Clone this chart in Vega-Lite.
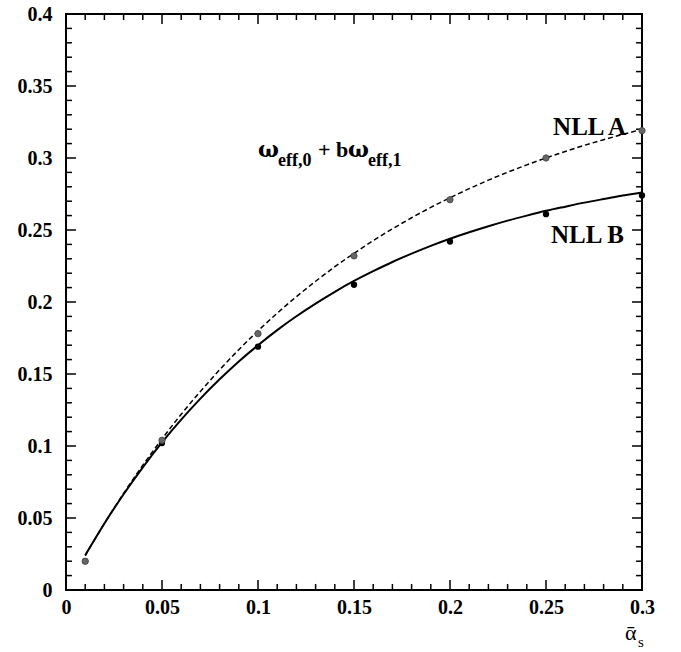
{
  "$schema": "https://vega.github.io/schema/vega-lite/v6.json",
  "width": 576,
  "height": 576,
  "autosize": "none",
  "padding": {"left": 66, "top": 14, "right": 39, "bottom": 62},
  "background": "white",
  "config": {
    "view": {"stroke": "black", "strokeWidth": 2},
    "axis": {
      "grid": false,
      "domain": false,
      "tickColor": "black",
      "tickWidth": 1.5,
      "labelFont": "Liberation Serif",
      "labelFontWeight": "bold",
      "labelFontSize": 20,
      "labelColor": "black",
      "labelFlush": false,
      "labelOverlap": false
    }
  },
  "datasets": {
    "curves": [
      {"x": 0.01, "y": 0.0239, "series": "NLL A"},
      {"x": 0.02, "y": 0.0462, "series": "NLL A"},
      {"x": 0.03, "y": 0.0671, "series": "NLL A"},
      {"x": 0.04, "y": 0.0866, "series": "NLL A"},
      {"x": 0.05, "y": 0.1049, "series": "NLL A"},
      {"x": 0.06, "y": 0.1220, "series": "NLL A"},
      {"x": 0.07, "y": 0.1379, "series": "NLL A"},
      {"x": 0.08, "y": 0.1529, "series": "NLL A"},
      {"x": 0.09, "y": 0.1669, "series": "NLL A"},
      {"x": 0.10, "y": 0.1800, "series": "NLL A"},
      {"x": 0.11, "y": 0.1922, "series": "NLL A"},
      {"x": 0.12, "y": 0.2037, "series": "NLL A"},
      {"x": 0.13, "y": 0.2144, "series": "NLL A"},
      {"x": 0.14, "y": 0.2245, "series": "NLL A"},
      {"x": 0.15, "y": 0.2338, "series": "NLL A"},
      {"x": 0.16, "y": 0.2426, "series": "NLL A"},
      {"x": 0.17, "y": 0.2508, "series": "NLL A"},
      {"x": 0.18, "y": 0.2585, "series": "NLL A"},
      {"x": 0.19, "y": 0.2657, "series": "NLL A"},
      {"x": 0.20, "y": 0.2724, "series": "NLL A"},
      {"x": 0.21, "y": 0.2787, "series": "NLL A"},
      {"x": 0.22, "y": 0.2846, "series": "NLL A"},
      {"x": 0.23, "y": 0.2901, "series": "NLL A"},
      {"x": 0.24, "y": 0.2952, "series": "NLL A"},
      {"x": 0.25, "y": 0.3000, "series": "NLL A"},
      {"x": 0.26, "y": 0.3045, "series": "NLL A"},
      {"x": 0.27, "y": 0.3088, "series": "NLL A"},
      {"x": 0.28, "y": 0.3127, "series": "NLL A"},
      {"x": 0.29, "y": 0.3164, "series": "NLL A"},
      {"x": 0.30, "y": 0.3199, "series": "NLL A"},
      {"x": 0.01, "y": 0.0241, "series": "NLL B"},
      {"x": 0.02, "y": 0.0462, "series": "NLL B"},
      {"x": 0.03, "y": 0.0665, "series": "NLL B"},
      {"x": 0.04, "y": 0.0852, "series": "NLL B"},
      {"x": 0.05, "y": 0.1025, "series": "NLL B"},
      {"x": 0.06, "y": 0.1183, "series": "NLL B"},
      {"x": 0.07, "y": 0.1329, "series": "NLL B"},
      {"x": 0.08, "y": 0.1463, "series": "NLL B"},
      {"x": 0.09, "y": 0.1587, "series": "NLL B"},
      {"x": 0.10, "y": 0.1700, "series": "NLL B"},
      {"x": 0.11, "y": 0.1805, "series": "NLL B"},
      {"x": 0.12, "y": 0.1901, "series": "NLL B"},
      {"x": 0.13, "y": 0.1989, "series": "NLL B"},
      {"x": 0.14, "y": 0.2071, "series": "NLL B"},
      {"x": 0.15, "y": 0.2146, "series": "NLL B"},
      {"x": 0.16, "y": 0.2214, "series": "NLL B"},
      {"x": 0.17, "y": 0.2278, "series": "NLL B"},
      {"x": 0.18, "y": 0.2336, "series": "NLL B"},
      {"x": 0.19, "y": 0.2390, "series": "NLL B"},
      {"x": 0.20, "y": 0.2439, "series": "NLL B"},
      {"x": 0.21, "y": 0.2484, "series": "NLL B"},
      {"x": 0.22, "y": 0.2526, "series": "NLL B"},
      {"x": 0.23, "y": 0.2565, "series": "NLL B"},
      {"x": 0.24, "y": 0.2600, "series": "NLL B"},
      {"x": 0.25, "y": 0.2633, "series": "NLL B"},
      {"x": 0.26, "y": 0.2662, "series": "NLL B"},
      {"x": 0.27, "y": 0.2690, "series": "NLL B"},
      {"x": 0.28, "y": 0.2715, "series": "NLL B"},
      {"x": 0.29, "y": 0.2739, "series": "NLL B"},
      {"x": 0.30, "y": 0.2760, "series": "NLL B"}
    ],
    "points": [
      {"x": 0.01, "y": 0.020, "series": "NLL A"},
      {"x": 0.05, "y": 0.104, "series": "NLL A"},
      {"x": 0.10, "y": 0.178, "series": "NLL A"},
      {"x": 0.15, "y": 0.232, "series": "NLL A"},
      {"x": 0.20, "y": 0.271, "series": "NLL A"},
      {"x": 0.25, "y": 0.300, "series": "NLL A"},
      {"x": 0.30, "y": 0.319, "series": "NLL A"},
      {"x": 0.01, "y": 0.020, "series": "NLL B"},
      {"x": 0.05, "y": 0.102, "series": "NLL B"},
      {"x": 0.10, "y": 0.169, "series": "NLL B"},
      {"x": 0.15, "y": 0.212, "series": "NLL B"},
      {"x": 0.20, "y": 0.242, "series": "NLL B"},
      {"x": 0.25, "y": 0.261, "series": "NLL B"},
      {"x": 0.30, "y": 0.274, "series": "NLL B"}
    ],
    "xmajor": [{"v": 0.05}, {"v": 0.1}, {"v": 0.15}, {"v": 0.2}, {"v": 0.25}],
    "xminor": [{"v": 0.01}, {"v": 0.02}, {"v": 0.03}, {"v": 0.04}, {"v": 0.06}, {"v": 0.07}, {"v": 0.08}, {"v": 0.09}, {"v": 0.11}, {"v": 0.12}, {"v": 0.13}, {"v": 0.14}, {"v": 0.16}, {"v": 0.17}, {"v": 0.18}, {"v": 0.19}, {"v": 0.21}, {"v": 0.22}, {"v": 0.23}, {"v": 0.24}, {"v": 0.26}, {"v": 0.27}, {"v": 0.28}, {"v": 0.29}],
    "ymajor": [{"v": 0.05}, {"v": 0.1}, {"v": 0.15}, {"v": 0.2}, {"v": 0.25}, {"v": 0.3}, {"v": 0.35}],
    "yminor": [{"v": 0.01}, {"v": 0.02}, {"v": 0.03}, {"v": 0.04}, {"v": 0.06}, {"v": 0.07}, {"v": 0.08}, {"v": 0.09}, {"v": 0.11}, {"v": 0.12}, {"v": 0.13}, {"v": 0.14}, {"v": 0.16}, {"v": 0.17}, {"v": 0.18}, {"v": 0.19}, {"v": 0.21}, {"v": 0.22}, {"v": 0.23}, {"v": 0.24}, {"v": 0.26}, {"v": 0.27}, {"v": 0.28}, {"v": 0.29}, {"v": 0.31}, {"v": 0.32}, {"v": 0.33}, {"v": 0.34}, {"v": 0.36}, {"v": 0.37}, {"v": 0.38}, {"v": 0.39}],
    "labels": [
      {"x": 0.2917, "y": 0.316, "text": "NLL A"},
      {"x": 0.2906, "y": 0.241, "text": "NLL B"}
    ],
    "formula_omega": [
      {"x": 0.1, "y": 0.3007, "text": "ω"},
      {"x": 0.1469, "y": 0.3007, "text": "ω"}
    ],
    "formula_main": [
      {"x": 0.1313, "y": 0.3007, "text": "+"},
      {"x": 0.1406, "y": 0.3007, "text": "b"}
    ],
    "formula_sub": [
      {"x": 0.1104, "y": 0.2944, "text": "eff,0"},
      {"x": 0.1573, "y": 0.2944, "text": "eff,1"}
    ],
    "xtitle_main": [
      {"x": 0.2911, "y": -0.0347, "text": "ᾱ"}
    ],
    "xtitle_sub": [
      {"x": 0.2979, "y": -0.0396, "text": "s"}
    ]
  },
  "resolve": {"axis": {"x": "independent", "y": "independent"}},
  "layer": [
    {
      "data": {"name": "curves"},
      "transform": [{"filter": "datum.series === 'NLL B'"}],
      "mark": {"type": "line", "color": "black", "strokeWidth": 2, "interpolate": "monotone"},
      "encoding": {
        "x": {"field": "x", "type": "quantitative", "scale": {"domain": [0, 0.3], "nice": false, "zero": false},
          "axis": {"orient": "bottom", "title": null, "ticks": false, "labelPadding": 7, "values": [0, 0.05, 0.1, 0.15, 0.2, 0.25, 0.3], "format": ".2~f"}},
        "y": {"field": "y", "type": "quantitative", "scale": {"domain": [0, 0.4], "nice": false, "zero": false},
          "axis": {"orient": "left", "title": null, "ticks": false, "labelPadding": 14, "values": [0, 0.05, 0.1, 0.15, 0.2, 0.25, 0.3, 0.35, 0.4], "format": ".2~f"}}
      }
    },
    {
      "data": {"name": "xmajor"},
      "mark": {"type": "rule", "color": "black", "strokeWidth": 1.5},
      "encoding": {
        "x": {"field": "v", "type": "quantitative", "axis": null},
        "y": {"datum": 0, "type": "quantitative", "axis": null},
        "y2": {"datum": 0.0069}
      }
    },
    {
      "data": {"name": "xmajor"},
      "mark": {"type": "rule", "color": "black", "strokeWidth": 1.5},
      "encoding": {
        "x": {"field": "v", "type": "quantitative", "axis": null},
        "y": {"datum": 0.4, "type": "quantitative", "axis": null},
        "y2": {"datum": 0.3931}
      }
    },
    {
      "data": {"name": "xminor"},
      "mark": {"type": "rule", "color": "black", "strokeWidth": 1.5},
      "encoding": {
        "x": {"field": "v", "type": "quantitative", "axis": null},
        "y": {"datum": 0, "type": "quantitative", "axis": null},
        "y2": {"datum": 0.0042}
      }
    },
    {
      "data": {"name": "xminor"},
      "mark": {"type": "rule", "color": "black", "strokeWidth": 1.5},
      "encoding": {
        "x": {"field": "v", "type": "quantitative", "axis": null},
        "y": {"datum": 0.4, "type": "quantitative", "axis": null},
        "y2": {"datum": 0.3958}
      }
    },
    {
      "data": {"name": "ymajor"},
      "mark": {"type": "rule", "color": "black", "strokeWidth": 1.5},
      "encoding": {
        "y": {"field": "v", "type": "quantitative", "axis": null},
        "x": {"datum": 0, "type": "quantitative", "axis": null},
        "x2": {"datum": 0.0052}
      }
    },
    {
      "data": {"name": "ymajor"},
      "mark": {"type": "rule", "color": "black", "strokeWidth": 1.5},
      "encoding": {
        "y": {"field": "v", "type": "quantitative", "axis": null},
        "x": {"datum": 0.3, "type": "quantitative", "axis": null},
        "x2": {"datum": 0.2948}
      }
    },
    {
      "data": {"name": "yminor"},
      "mark": {"type": "rule", "color": "black", "strokeWidth": 1.5},
      "encoding": {
        "y": {"field": "v", "type": "quantitative", "axis": null},
        "x": {"datum": 0, "type": "quantitative", "axis": null},
        "x2": {"datum": 0.0031}
      }
    },
    {
      "data": {"name": "yminor"},
      "mark": {"type": "rule", "color": "black", "strokeWidth": 1.5},
      "encoding": {
        "y": {"field": "v", "type": "quantitative", "axis": null},
        "x": {"datum": 0.3, "type": "quantitative", "axis": null},
        "x2": {"datum": 0.2969}
      }
    },
    {
      "data": {"name": "curves"},
      "transform": [{"filter": "datum.series === 'NLL A'"}],
      "mark": {"type": "line", "color": "black", "strokeWidth": 1.5, "strokeDash": [5, 3], "interpolate": "monotone"},
      "encoding": {
        "x": {"field": "x", "type": "quantitative", "axis": null},
        "y": {"field": "y", "type": "quantitative", "axis": null}
      }
    },
    {
      "data": {"name": "points"},
      "transform": [{"filter": "datum.series === 'NLL B'"}],
      "mark": {"type": "circle", "color": "black", "opacity": 1, "size": 40},
      "encoding": {
        "x": {"field": "x", "type": "quantitative", "axis": null},
        "y": {"field": "y", "type": "quantitative", "axis": null}
      }
    },
    {
      "data": {"name": "points"},
      "transform": [{"filter": "datum.series === 'NLL A'"}],
      "mark": {"type": "circle", "color": "#666666", "opacity": 1, "size": 40, "stroke": "#444444", "strokeWidth": 0.8},
      "encoding": {
        "x": {"field": "x", "type": "quantitative", "axis": null},
        "y": {"field": "y", "type": "quantitative", "axis": null}
      }
    },
    {
      "data": {"name": "labels"},
      "mark": {"type": "text", "font": "Liberation Serif", "fontWeight": "bold", "fontSize": 25, "align": "right", "baseline": "alphabetic", "color": "black"},
      "encoding": {
        "x": {"field": "x", "type": "quantitative", "axis": null},
        "y": {"field": "y", "type": "quantitative", "axis": null},
        "text": {"field": "text"}
      }
    },
    {
      "data": {"name": "formula_omega"},
      "mark": {"type": "text", "font": "DejaVu Serif", "fontWeight": "bold", "fontSize": 22, "align": "left", "baseline": "alphabetic", "color": "black"},
      "encoding": {
        "x": {"field": "x", "type": "quantitative", "axis": null},
        "y": {"field": "y", "type": "quantitative", "axis": null},
        "text": {"field": "text"}
      }
    },
    {
      "data": {"name": "formula_main"},
      "mark": {"type": "text", "font": "Liberation Serif", "fontWeight": "bold", "fontSize": 22, "align": "left", "baseline": "alphabetic", "color": "black"},
      "encoding": {
        "x": {"field": "x", "type": "quantitative", "axis": null},
        "y": {"field": "y", "type": "quantitative", "axis": null},
        "text": {"field": "text"}
      }
    },
    {
      "data": {"name": "formula_sub"},
      "mark": {"type": "text", "font": "Liberation Serif", "fontWeight": "bold", "fontSize": 18, "align": "left", "baseline": "alphabetic", "color": "black"},
      "encoding": {
        "x": {"field": "x", "type": "quantitative", "axis": null},
        "y": {"field": "y", "type": "quantitative", "axis": null},
        "text": {"field": "text"}
      }
    },
    {
      "data": {"name": "xtitle_main"},
      "mark": {"type": "text", "font": "Liberation Serif", "fontSize": 22, "align": "left", "baseline": "alphabetic", "color": "black"},
      "encoding": {
        "x": {"field": "x", "type": "quantitative", "axis": null},
        "y": {"field": "y", "type": "quantitative", "axis": null},
        "text": {"field": "text"}
      }
    },
    {
      "data": {"name": "xtitle_sub"},
      "mark": {"type": "text", "font": "Liberation Serif", "fontSize": 15, "align": "left", "baseline": "alphabetic", "color": "black"},
      "encoding": {
        "x": {"field": "x", "type": "quantitative", "axis": null},
        "y": {"field": "y", "type": "quantitative", "axis": null},
        "text": {"field": "text"}
      }
    }
  ]
}
